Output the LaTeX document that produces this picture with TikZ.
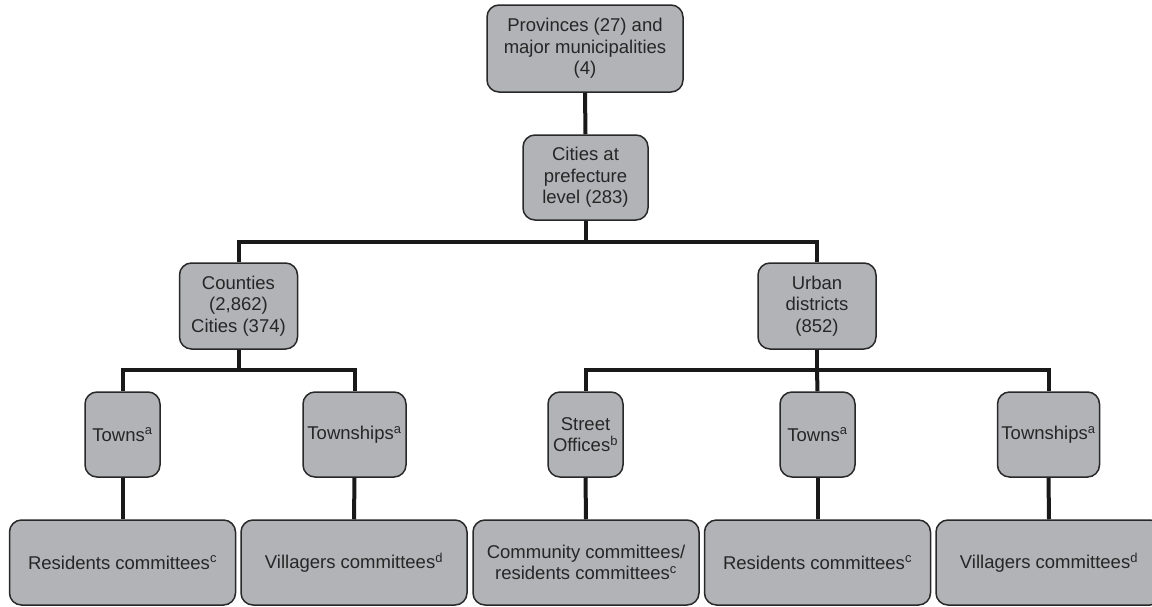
\documentclass[tikz,border=0pt]{standalone}
\usepackage{fontspec}
\setmainfont{Liberation Sans}
\begin{document}
\begin{tikzpicture}
% Administrative hierarchy chart
\providecommand{\hierBoxFill}{black!30!white!100}
\providecommand{\hierBoxLineWidth}{1.5pt}
\providecommand{\hierLinkWidth}{4pt}
\definecolor{hierfill}{RGB}{177,179,182}
\definecolor{hierborder}{RGB}{40,40,40}
\tikzset{
  unitbox/.style={draw=hierborder, fill=hierfill, line width=\hierBoxLineWidth,
    rounded corners=12pt, align=center, inner sep=0pt,
    font=\fontsize{18.5}{21.5}\selectfont, text=black!85},
  link/.style={draw=black!90, line width=\hierLinkWidth}
}
\begin{scope}[x=1pt, y=-1pt]
  \useasboundingbox (0,0) rectangle (1152,606);
  % Top levels
  \node[unitbox, minimum width=196pt, minimum height=87pt] (prov) at (585,48.5) {Provinces (27) and\\major municipalities\\(4)};
  \node[unitbox, minimum width=125pt, minimum height=85pt] (cities) at (585.5,177.5) {Cities at\\prefecture\\level (283)};
  % County level
  \node[unitbox, minimum width=118pt, minimum height=86pt] (counties) at (238.5,306) {Counties\\(2,862)\\Cities (374)};
  \node[unitbox, minimum width=118pt, minimum height=86pt] (urban) at (817,306) {Urban\\districts\\(852)};
  % Township level
  \begin{scope}[every node/.append style={unitbox, minimum height=85pt}]
    \node[minimum width=75pt] (towns1) at (122.5,434.5) {Towns\textsuperscript{a}};
    \node[minimum width=103pt] (twp1) at (354.5,434.5) {Townships\textsuperscript{a}};
    \node[minimum width=75pt] (street) at (585.5,434.5) {Street\\Offices\textsuperscript{b}};
    \node[minimum width=75pt] (towns2) at (817.5,434.5) {Towns\textsuperscript{a}};
    \node[minimum width=102pt] (twp2) at (1048.5,434.5) {Townships\textsuperscript{a}};
  \end{scope}
  % Committees
  \begin{scope}[every node/.append style={unitbox, minimum width=226pt, minimum height=85pt}]
    \node (res1) at (122.5,562.5) {Residents committees\textsuperscript{c}};
    \node (vil1) at (354,562.5) {Villagers committees\textsuperscript{d}};
    \node (comm) at (586,562.5) {Community committees/\\residents committees\textsuperscript{c}};
    \node (res2) at (817.5,562.5) {Residents committees\textsuperscript{c}};
    \node (vil2) at (1049,562.5) {Villagers committees\textsuperscript{d}};
  \end{scope}
  % Bar junctions
  \coordinate (barA) at (585.5,242);
  \coordinate (barB) at (238.5,370);
  \coordinate (barC) at (817,370);
  % Connectors
  \begin{scope}[link]
    \draw (prov.south) -- (cities.north);
    \draw (cities.south) -- (barA);
    \draw (counties.north) |- (barA) -| (urban.north);
    \draw (counties.south) -- (barB);
    \draw (towns1.north) |- (barB) -| (twp1.north);
    \draw (urban.south) -- (barC);
    \draw (street.north) |- (barC) -| (twp2.north);
    \draw (barC) -- (towns2.north);
    \draw (towns1.south) -- (res1.north);
    \draw (twp1.south) -- (vil1.north);
    \draw (street.south) -- (comm.north);
    \draw (towns2.south) -- (res2.north);
    \draw (twp2.south) -- (vil2.north);
  \end{scope}
\end{scope}
\end{tikzpicture}
\end{document}
